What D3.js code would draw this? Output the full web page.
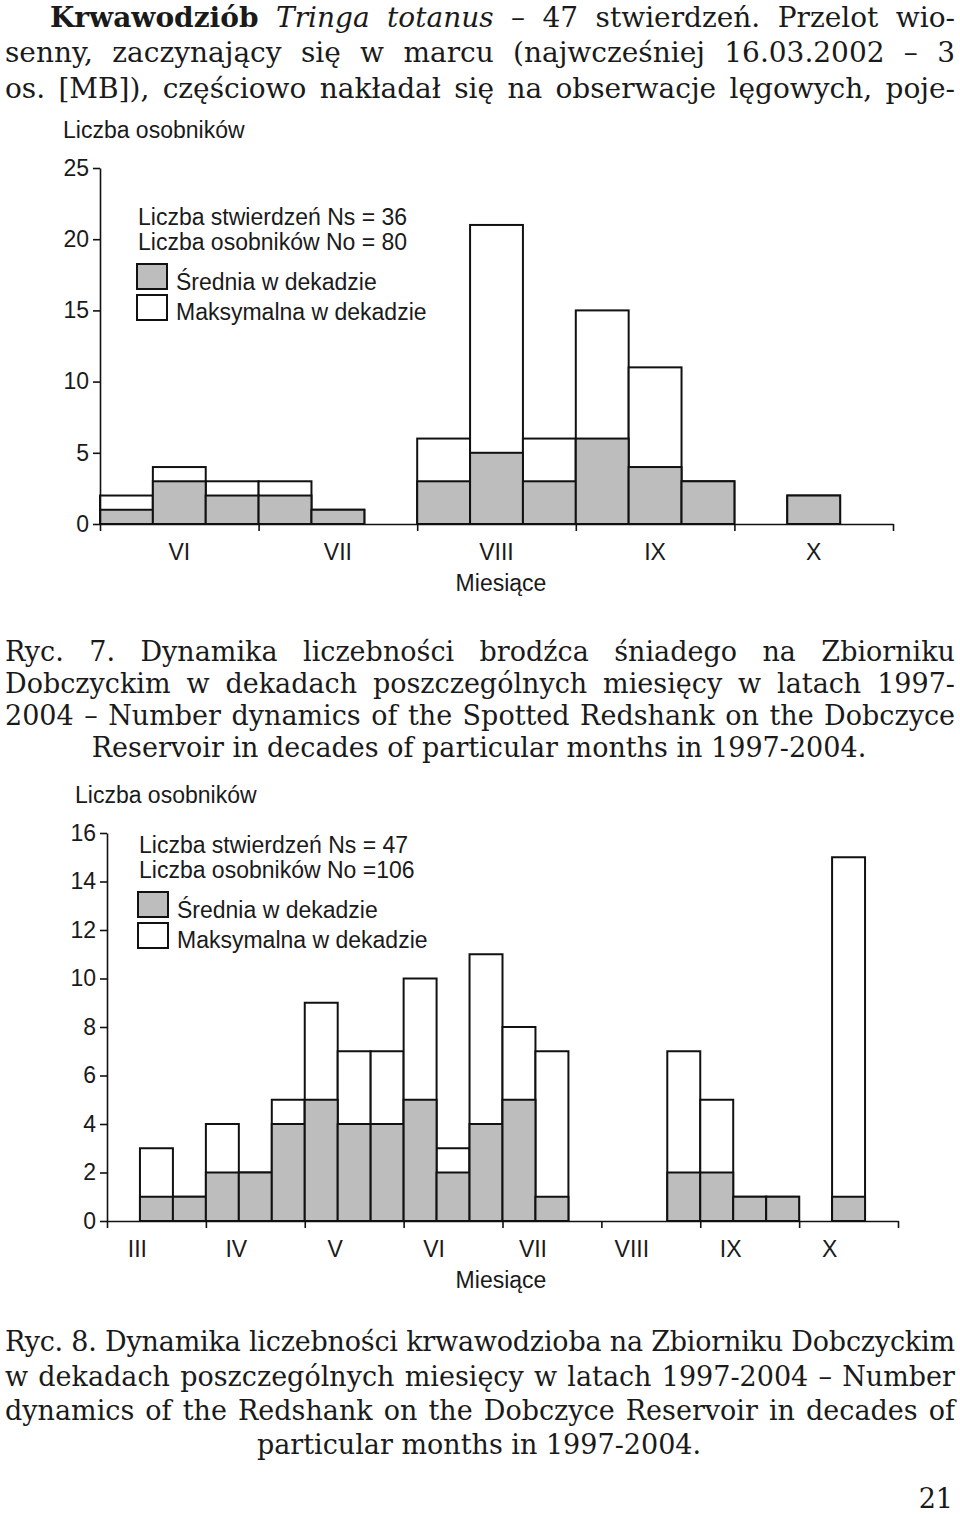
<!DOCTYPE html>
<html>
<head>
<meta charset="utf-8">
<script src="https://cdn.jsdelivr.net/npm/d3@7"></script>
<style>
  body { margin: 0; background: #fff; }
  svg text { fill: #1a1a1a; }
  .sans { font-family: "Liberation Sans", Arial, sans-serif; font-size: 23px; }
  .serif { font-family: "DejaVu Serif", serif; }
</style>
</head>
<body>
<script>
// --- data: Ryc. 7 (brodziec śniady), decades of months VI-X
var months1 = ["VI", "VII", "VIII", "IX", "X"];
var mean1 = [1, 3, 2,  2, 1, null,  3, 5, 3,  6, 4, 3,  null, 2, null];
var max1  = [2, 4, 3,  3, 1, null,  6, 21, 6, 15, 11, 3, null, 2, null];
var ticks1 = [0, 5, 10, 15, 20, 25];

// --- data: Ryc. 8 (krwawodziób), decades of months III-X
var months2 = ["III", "IV", "V", "VI", "VII", "VIII", "IX", "X"];
var mean2 = [null, 1, 1,  2, 2, 4,  5, 4, 4,  5, 2, 4,  5, 1, null,  null, null, 2,  2, 1, 1,  null, 1, null];
var max2  = [null, 3, 1,  4, 2, 5,  9, 7, 7, 10, 3, 11, 8, 7, null,  null, null, 7,  5, 1, 1,  null, 15, null];
var ticks2 = [0, 2, 4, 6, 8, 10, 12, 14, 16];

var svg = d3.select("body").append("svg")
  .attr("width", 960)
  .attr("height", 1514);

// justify a line of text to a given width
function justify(node, width) {
  var n = node.getComputedTextLength();
  var txt = node.textContent;
  var spaces = (txt.match(/ /g) || []).length;
  if (n < width && spaces) {
    d3.select(node).attr("word-spacing", (width - n) / spaces);
  } else {
    // too wide: tighten letters a bit
    d3.select(node).attr("letter-spacing", (width - n) / (txt.length - 1));
  }
}

function para(lines, size) {
  lines.forEach(function(l) {
    var t = svg.append("text").attr("class", "serif")
      .attr("font-size", size)
      .attr("y", l.y);
    l.parts.forEach(function(p) {
      t.append("tspan")
        .attr("font-weight", p.b ? "bold" : null)
        .attr("font-style", p.i ? "italic" : null)
        .text(p.t);
    });
    if (l.center) {
      t.attr("x", 479).attr("text-anchor", "middle");
    } else if (l.right) {
      t.attr("x", l.right).attr("text-anchor", "end");
    } else {
      t.attr("x", l.x);
      justify(t.node(), l.w);
    }
  });
}

para([
  {y: 27, x: 50, w: 905, parts: [{t: "Krwawodziób", b: 1}, {t: " "}, {t: "Tringa totanus", i: 1}, {t: " – 47 stwierdzeń. Przelot wio-"}]},
  {y: 62, x: 5, w: 950, parts: [{t: "senny, zaczynający się w marcu (najwcześniej 16.03.2002 – 3"}]},
  {y: 98, x: 5, w: 950, parts: [{t: "os. [MB]), częściowo nakładał się na obserwacje lęgowych, poje-"}]}
], 28);

para([
  {y: 661, x: 5, w: 950, parts: [{t: "Ryc. 7. Dynamika liczebności brodźca śniadego na Zbiorniku"}]},
  {y: 693, x: 5, w: 950, parts: [{t: "Dobczyckim w dekadach poszczególnych miesięcy w latach 1997-"}]},
  {y: 725, x: 5, w: 950, parts: [{t: "2004 – Number dynamics of the Spotted Redshank on the Dobczyce"}]},
  {y: 757, center: 1, parts: [{t: "Reservoir in decades of particular months in 1997-2004."}]}
], 27);

para([
  {y: 1351, x: 5, w: 950, parts: [{t: "Ryc. 8. Dynamika liczebności krwawodzioba na Zbiorniku Dobczyckim"}]},
  {y: 1386, x: 5, w: 950, parts: [{t: "w dekadach poszczególnych miesięcy w latach 1997-2004 – Number"}]},
  {y: 1420, x: 5, w: 950, parts: [{t: "dynamics of the Redshank on the Dobczyce Reservoir in decades of"}]},
  {y: 1454, center: 1, parts: [{t: "particular months in 1997-2004."}]},
  {y: 1508, right: 953, parts: [{t: "21"}]}
], 27);

function chart(o) {
  var g = svg.append("g");
  var n = o.mean.length;
  var x = d3.scaleLinear().domain([0, n]).range([o.x0, o.x1]);
  var y = d3.scaleLinear().domain([0, o.ymax]).range([o.y0, o.y1]);
  var dec = o.mean.map(function(m, i) { return {i: i, mean: m, max: o.max[i]}; })
    .filter(function(d) { return d.max != null; });

  g.selectAll(".mx").data(dec).enter().append("rect")
    .attr("x", function(d) { return x(d.i); })
    .attr("width", function(d) { return x(d.i + 1) - x(d.i); })
    .attr("y", function(d) { return y(d.max); })
    .attr("height", function(d) { return y(0) - y(d.max); })
    .style("fill", "#fff").style("stroke", "#111").style("stroke-width", 2);

  g.selectAll(".mn").data(dec).enter().append("rect")
    .attr("x", function(d) { return x(d.i); })
    .attr("width", function(d) { return x(d.i + 1) - x(d.i); })
    .attr("y", function(d) { return y(d.mean); })
    .attr("height", function(d) { return y(0) - y(d.mean); })
    .style("fill", "#bdbdbd").style("stroke", "#111").style("stroke-width", 2);

  var ya = g.append("g").attr("transform", "translate(" + o.x0 + ",0)")
    .call(d3.axisLeft(y).tickValues(o.ticks).tickSize(7).tickSizeOuter(0).tickPadding(4));
  var xa = g.append("g").attr("transform", "translate(0," + o.y0 + ")")
    .call(d3.axisBottom(x).tickValues(d3.range(0, n + 1, 3)).tickSize(7).tickSizeOuter(0).tickFormat(""));
  [ya, xa].forEach(function(a) {
    a.selectAll("path, line").style("stroke", "#111").style("stroke-width", 1.6);
    a.selectAll("text").attr("class", "sans").style("font-size", "23px").style("fill", "#1a1a1a");
  });

  g.selectAll(".ml").data(o.months).enter().append("text")
    .attr("class", "sans")
    .attr("text-anchor", "middle")
    .attr("x", function(d, i) { return x(i * 3 + 1.5) + o.labOff; })
    .attr("y", o.y0 + 36)
    .text(function(d) { return d; });

  g.append("text").attr("class", "sans").attr("text-anchor", "middle")
    .attr("x", 501).attr("y", o.y0 + 67).text("Miesiące");
  g.append("text").attr("class", "sans")
    .attr("x", o.titleX).attr("y", o.titleY).text("Liczba osobników");

  // legend
  var L = o.leg;
  g.append("text").attr("class", "sans").attr("x", L.x).attr("y", L.y).text(L.l1);
  g.append("text").attr("class", "sans").attr("x", L.x).attr("y", L.y + 25).text(L.l2);
  g.append("rect").attr("x", L.x - 1).attr("y", L.y + 39).attr("width", 30).attr("height", 25)
    .style("fill", "#bdbdbd").style("stroke", "#111").style("stroke-width", 2);
  g.append("rect").attr("x", L.x - 1).attr("y", L.y + 70).attr("width", 30).attr("height", 25)
    .style("fill", "#fff").style("stroke", "#111").style("stroke-width", 2);
  g.append("text").attr("class", "sans").attr("x", L.x + 38).attr("y", L.y + 65).text("Średnia w dekadzie");
  g.append("text").attr("class", "sans").attr("x", L.x + 38).attr("y", L.y + 95).text("Maksymalna w dekadzie");
}

chart({
  mean: mean1, max: max1, months: months1, ticks: ticks1, ymax: 25,
  x0: 100, x1: 893, y0: 524, y1: 168, labOff: 0,
  titleX: 63, titleY: 138,
  leg: {x: 138, y: 225, l1: "Liczba stwierdzeń Ns = 36", l2: "Liczba osobników No = 80"}
});

chart({
  mean: mean2, max: max2, months: months2, ticks: ticks2, ymax: 16,
  x0: 107, x1: 898, y0: 1221, y1: 833, labOff: -19,
  titleX: 75, titleY: 803,
  leg: {x: 139, y: 853, l1: "Liczba stwierdzeń Ns = 47", l2: "Liczba osobników No =106"}
});
</script>
</body>
</html>
